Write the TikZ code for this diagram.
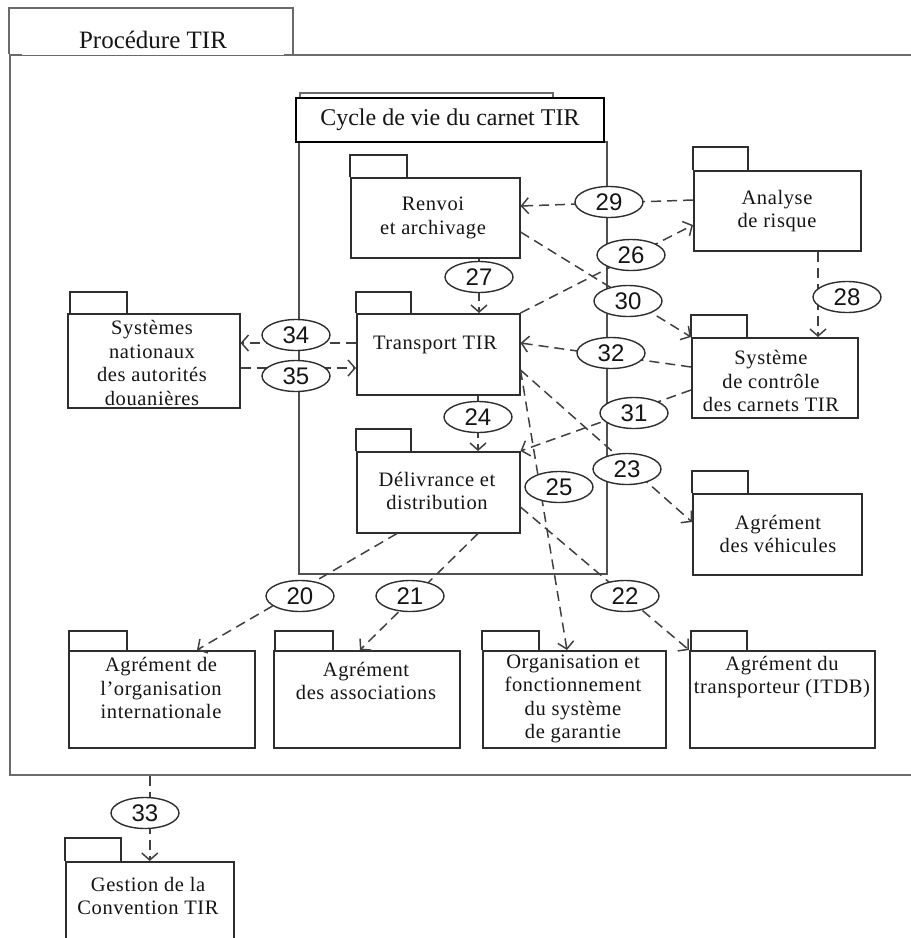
\documentclass[tikz,border=0pt]{standalone}
\usepackage{fontspec}
\setmainfont{Liberation Serif}
\newfontfamily\boxfam[LetterSpace=3]{Liberation Serif}
\newfontfamily\numfam{Liberation Sans}
\usetikzlibrary{arrows.meta,shapes.geometric}

\definecolor{boxc}{HTML}{2E2E2E}
\definecolor{depc}{HTML}{404040}
\definecolor{framec}{HTML}{6A6A6A}
\definecolor{cyclec}{HTML}{505050}
\definecolor{txt}{HTML}{151515}

\pgfdeclarelayer{front}
\pgfsetlayers{main,front}

% package: body rectangle with a small tab on its top-left corner
% #1 name, #2 x1, #3 y1, #4 x2, #5 y2, #6 tab offset, #7 tab width, #8 tab height
\newcommand\pkgbox[8]{%
  \node[pkgbody, minimum width={#4-#2}, minimum height={#5-#3}] (#1) at (#2,#3) {};
  \draw[pkgtab] ([xshift=#6pt]#1.north west) -- ++(0,-#8) -- ++(#7,0) -- ++(0,#8);
}

\tikzset{
  pkgbody/.style={draw=boxc, line width=1.5pt, fill=white, anchor=north west, inner sep=0pt},
  pkgtab/.style={draw=boxc, line width=1.5pt},
  pkgtext/.style={align=center, inner sep=0pt, text=txt,
    font=\boxfam\fontsize{20.5}{23.5}\selectfont},
  dep/.style={draw=depc, line width=1.5pt, dash pattern=on 10pt off 6pt,
    -{Straight Barb[length=7pt,width=16pt]}},
  num/.style={ellipse, draw=boxc, line width=1.4pt, fill=white, minimum width=68pt,
    minimum height=31pt, inner sep=0pt, text=txt,
    font=\numfam\fontsize{24}{24}\selectfont},
}

\begin{document}
\begin{tikzpicture}[x=1pt, y=-1pt]
\useasboundingbox (0,0) rectangle (911,938);
\clip (0,0) rectangle (911,938);

% ---------- outer package: Procédure TIR ----------
\node[draw=framec, line width=2.2pt, anchor=north west, minimum width=960pt,
      minimum height=720pt, inner sep=0pt] (proc) at (9,54) {};
\draw[draw=framec, line width=2.2pt] (9,54) -- (9,8) -- (293,8) -- (293,54);
\node[fill=white, minimum width=262pt, minimum height=30pt, inner sep=0pt, text=txt,
      font=\fontsize{25}{28}\selectfont] (proclabel) at (153,40) {Procédure TIR};

% ---------- nested package: Cycle de vie du carnet TIR ----------
\node[draw=cyclec, line width=1.8pt, anchor=north west, minimum width=308pt,
      minimum height=432pt, inner sep=0pt] (cycle) at (298,141) {};
\draw[draw=framec, line width=1.5pt] (300,98) -- (300,93) -- (553,93) -- (553,98);
\node[draw=black, line width=1.8pt, fill=white, anchor=north west, minimum width=308pt,
      minimum height=44pt, inner sep=0pt, text=txt,
      font=\fontsize{24}{27}\selectfont] (cyclename) at (295,97) {Cycle de vie du carnet TIR};

% ---------- packages ----------
\pkgbox{renvoi}{350}{177}{519}{257}{0}{57}{22}
\pkgbox{analyse}{693}{170}{860}{250}{0}{55}{23}
\pkgbox{transport}{356}{313}{519}{394}{0}{55}{21}
\pkgbox{sysnat}{67}{313}{239}{407}{3}{57}{21}
\pkgbox{syscont}{691}{337}{857}{417}{0}{56}{22}
\pkgbox{delivrance}{356}{451}{519}{532}{0}{55}{22}
\pkgbox{vehicules}{692}{493}{861}{574}{0}{56}{22}
\pkgbox{aorg}{68}{650}{254}{747}{1}{58}{19}
\pkgbox{assoc}{273}{650}{459}{747}{2}{58}{19}
\pkgbox{orga}{482}{650}{665}{747}{0}{57}{19}
\pkgbox{transporteur}{689}{650}{874}{747}{2}{56}{19}
\pkgbox{gestion}{65}{861}{233}{960}{0}{56}{23}

% ---------- package names ----------
\node[pkgtext] (renvoi-t)       at (433,218) {Renvoi\\et archivage};
\node[pkgtext] (analyse-t)      at (777,211) {Analyse\\de risque};
\node[pkgtext] (transport-t)    at (435,345) {Transport TIR};
\node[pkgtext] (sysnat-t)       at (152,363) {Systèmes\\nationaux\\des autorités\\douanières};
\node[pkgtext] (syscont-t)      at (771,381) {Système\\de contrôle\\des carnets TIR};
\node[pkgtext] (delivrance-t)   at (437,491) {Délivrance et\\distribution};
\node[pkgtext] (vehicules-t)    at (778,534) {Agrément\\des véhicules};
\node[pkgtext] (aorg-t)         at (161,688) {Agrément de\\l’organisation\\internationale};
\node[pkgtext] (assoc-t)        at (366,681) {Agrément\\des associations};
\node[pkgtext] (orga-t)         at (573,699) {Organisation et\\fonctionnement\\du système\\de garantie};
\node[pkgtext] (transporteur-t) at (782,677) {Agrément du\\transporteur (ITDB)};
\node[pkgtext] (gestion-t)      at (148,896) {Gestion de la\\Convention TIR};

% ---------- dependency labels ----------
\begin{pgfonlayer}{front}
\node[num] (n29) at (609,202) {29};
\node[num] (n26) at (631,255) {26};
\node[num] (n30) at (628,301) {30};
\node[num] (n28) at (847,297) {28};
\node[num] (n27) at (479,277) {27};
\node[num] (n34) at (296,335) {34};
\node[num] (n35) at (296,376) {35};
\node[num] (n32) at (611,353) {32};
\node[num] (n24) at (478,417) {24};
\node[num] (n31) at (634,413) {31};
\node[num] (n23) at (627,469) {23};
\node[num] (n25) at (559,487) {25};
\node[num] (n20) at (300,596) {20};
\node[num] (n21) at (410,596) {21};
\node[num] (n22) at (625,596) {22};
\node[num] (n33) at (145,813) {33};
\end{pgfonlayer}

% ---------- dependencies ----------
\draw[dep] ([yshift=-30pt]analyse.north west) -- ([yshift=-29pt]renvoi.north east);
\draw[dep] (transport.north east) -- ([yshift=-55pt]analyse.north west);
\draw[dep] ([yshift=-55pt]renvoi.north east) -- (syscont.north west);
\draw[dep] ([xshift=125pt]analyse.south west) -- ([xshift=127pt]syscont.north west);
\draw[dep] (renvoi.south -| n27) -- (transport.north -| n27);
\draw[dep] ([yshift=-30pt]transport.north west) -- ([yshift=-30pt]sysnat.north east);
\draw[dep] ([yshift=-55pt]sysnat.north east) -- ([yshift=-55pt]transport.north west);
\draw[dep] ([yshift=-30pt]syscont.north west) -- ([yshift=-30pt]transport.north east);
\draw[dep] (transport.south -| n24) -- (delivrance.north -| n24);
\draw[dep] ([yshift=-53pt]syscont.north west) -- (delivrance.north east);
\draw[dep] ([yshift=-57pt]transport.north east) -- ([yshift=-29pt]vehicules.north west);
\draw[dep] ([yshift=-57pt]transport.north east) -- ([xshift=85pt]orga.north west);
\draw[dep] ([yshift=-56pt]delivrance.north east) -- (transporteur.north west);
\draw[dep] ([xshift=41pt]delivrance.south west) -- ([xshift=129pt]aorg.north west);
\draw[dep] ([xshift=122pt]delivrance.south west) -- ([xshift=87pt]assoc.north west);
\draw[dep] (proc.south -| gestion.north) -- (gestion.north);

\end{tikzpicture}
\end{document}
